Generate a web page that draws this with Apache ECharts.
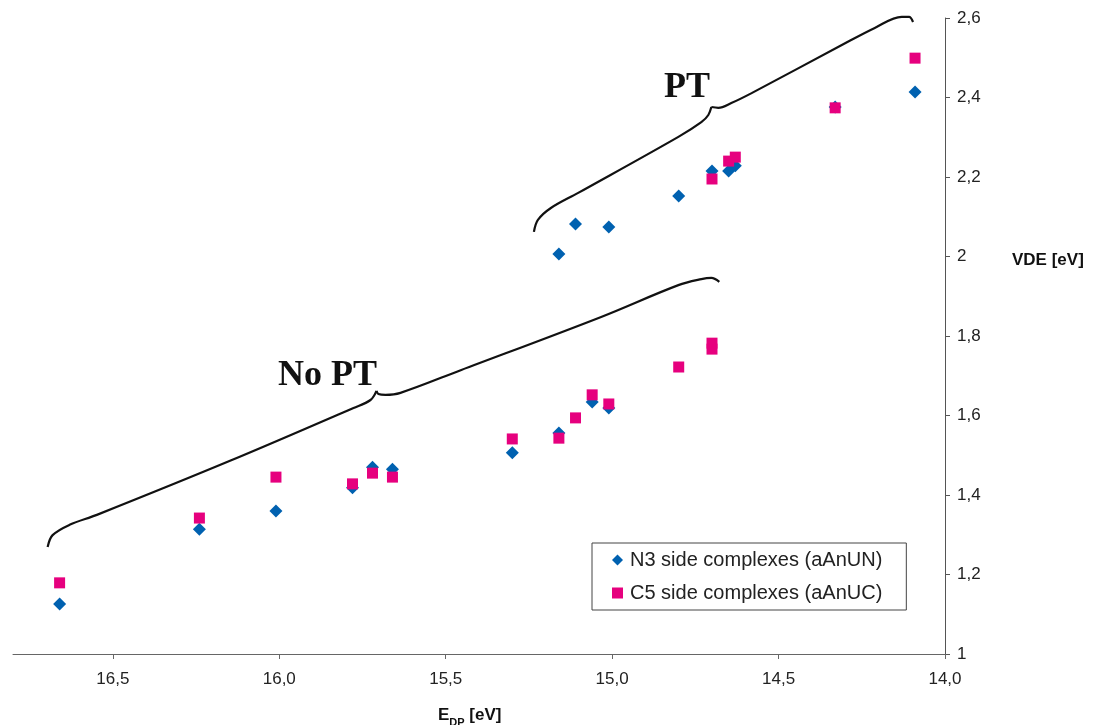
<!DOCTYPE html>
<html>
<head>
<meta charset="utf-8">
<style>
html, body { margin: 0; padding: 0; background: #fff; }
#chart { width: 1104px; height: 725px; }
</style>
<script src="https://cdn.jsdelivr.net/npm/echarts@6/dist/echarts.min.js"></script>
</head>
<body>
<div id="chart"></div>
<script>
// [E_DP, VDE] in eV
var n3Points = [
  [16.66, 1.126], [16.24, 1.314], [16.01, 1.360], [15.78, 1.418], [15.72, 1.470],
  [15.66, 1.465], [15.30, 1.506], [15.16, 1.556], [15.06, 1.634], [15.01, 1.619],
  [15.16, 2.006], [15.11, 2.082], [15.01, 2.074], [14.80, 2.152], [14.70, 2.215],
  [14.65, 2.215], [14.63, 2.228], [14.33, 2.376], [14.09, 2.414]
];
var c5Points = [
  [16.66, 1.179], [16.24, 1.342], [16.01, 1.445], [15.78, 1.428], [15.72, 1.455],
  [15.66, 1.445], [15.30, 1.541], [15.16, 1.543], [15.11, 1.594], [15.06, 1.652],
  [15.01, 1.629], [14.80, 1.722], [14.70, 1.782], [14.70, 1.767], [14.70, 2.195],
  [14.65, 2.240], [14.63, 2.250], [14.33, 2.374], [14.09, 2.499]
];
var xTicks = [14.0, 14.5, 15.0, 15.5, 16.0, 16.5];
var yTicks = [1, 1.2, 1.4, 1.6, 1.8, 2, 2.2, 2.4, 2.6];

// curly braces, drawn in data units (two halves each, meeting at the tip)
var noPtLeft = [[16.696, 1.269], [16.681, 1.299], [16.630, 1.325], [16.548, 1.350],
  [16.148, 1.486], [15.777, 1.619], [15.726, 1.639], [15.708, 1.662]];
var noPtRight = [[15.708, 1.662], [15.702, 1.654], [15.681, 1.652], [15.636, 1.657],
  [15.455, 1.714], [15.033, 1.848], [14.801, 1.928], [14.732, 1.943], [14.702, 1.946], [14.678, 1.936]];
var ptLeft = [[15.235, 2.062], [15.223, 2.092], [15.184, 2.122], [15.102, 2.160],
  [14.801, 2.301], [14.732, 2.338], [14.711, 2.356], [14.702, 2.376]];
var ptRight = [[14.702, 2.376], [14.681, 2.374], [14.642, 2.386], [14.581, 2.411],
  [14.310, 2.532], [14.211, 2.575], [14.130, 2.603], [14.108, 2.603], [14.096, 2.590]];

var blue = '#0061b0';
var pink = '#e6007e';

function comma(v) { return String(v).replace('.', ','); }

function brace(data) {
  return {
    type: 'line', data: data, smooth: 0.35, symbol: 'none', silent: true, clip: false,
    lineStyle: { color: '#111', width: 2.2 }, z: 1
  };
}

var chart = echarts.init(document.getElementById('chart'));
chart.setOption({
  animation: false,
  grid: { left: 13, right: 159, top: 18, bottom: 71 },
  xAxis: {
    type: 'value', inverse: true, min: 14, max: 16.8, interval: 0.5,
    axisLine: { lineStyle: { color: '#666', width: 1 } },
    axisTick: { show: true, length: 5, customValues: xTicks, lineStyle: { color: '#666' } },
    axisLabel: {
      customValues: xTicks, color: '#222', fontSize: 17, margin: 17,
      fontFamily: 'Liberation Sans',
      formatter: function (v) { return v.toFixed(1).replace('.', ','); }
    },
    splitLine: { show: false }
  },
  yAxis: {
    type: 'value', position: 'right', min: 1, max: 2.6, interval: 0.2,
    axisLine: { show: true, lineStyle: { color: '#555', width: 1 } },
    axisTick: { show: true, length: 5, customValues: yTicks, lineStyle: { color: '#555' } },
    axisLabel: {
      customValues: yTicks, color: '#222', fontSize: 17, margin: 12,
      fontFamily: 'Liberation Sans',
      formatter: function (v) { return comma(Math.round(v * 10) / 10); }
    },
    splitLine: { show: false }
  },
  legend: {
    orient: 'vertical', left: 592, top: 543,
    borderColor: '#444', borderWidth: 1,
    padding: [7, 24, 7, 20], itemGap: 13,
    itemWidth: 11, itemHeight: 11,
    textStyle: { color: '#222', fontSize: 20, fontFamily: 'Liberation Sans', padding: [0, 0, 0, 2] },
    data: [
      { name: 'N3 side complexes (aAnUN)', icon: 'diamond' },
      { name: 'C5 side complexes (aAnUC)', icon: 'rect' }
    ]
  },
  graphic: [
    { type: 'text', left: 278, top: 358,
      style: { text: 'No PT', fill: '#111', font: 'bold 36px "Liberation Serif"' } },
    { type: 'text', left: 664, top: 70,
      style: { text: 'PT', fill: '#111', font: 'bold 36px "Liberation Serif"' } },
    { type: 'text', left: 1012, top: 252,
      style: { text: 'VDE [eV]', fill: '#111', font: 'bold 17px "Liberation Sans"' } },
    { type: 'text', left: 438, top: 707,
      style: {
        text: '{a|E}{b|DP}{a| [eV]}',
        rich: {
          a: { fill: '#111', font: 'bold 17px "Liberation Sans"', verticalAlign: 'bottom' },
          b: { fill: '#111', font: 'bold 11px "Liberation Sans"', verticalAlign: 'bottom', padding: [0, 0, -4, 0] }
        }
      } }
  ],
  series: [
    brace(noPtLeft), brace(noPtRight), brace(ptLeft), brace(ptRight),
    {
      name: 'N3 side complexes (aAnUN)', type: 'scatter', data: n3Points,
      symbol: 'diamond', symbolSize: 13, itemStyle: { color: blue, opacity: 1 }, z: 3
    },
    {
      name: 'C5 side complexes (aAnUC)', type: 'scatter', data: c5Points,
      symbol: 'rect', symbolSize: 11, itemStyle: { color: pink, opacity: 1 }, z: 4
    }
  ]
});
</script>
</body>
</html>
